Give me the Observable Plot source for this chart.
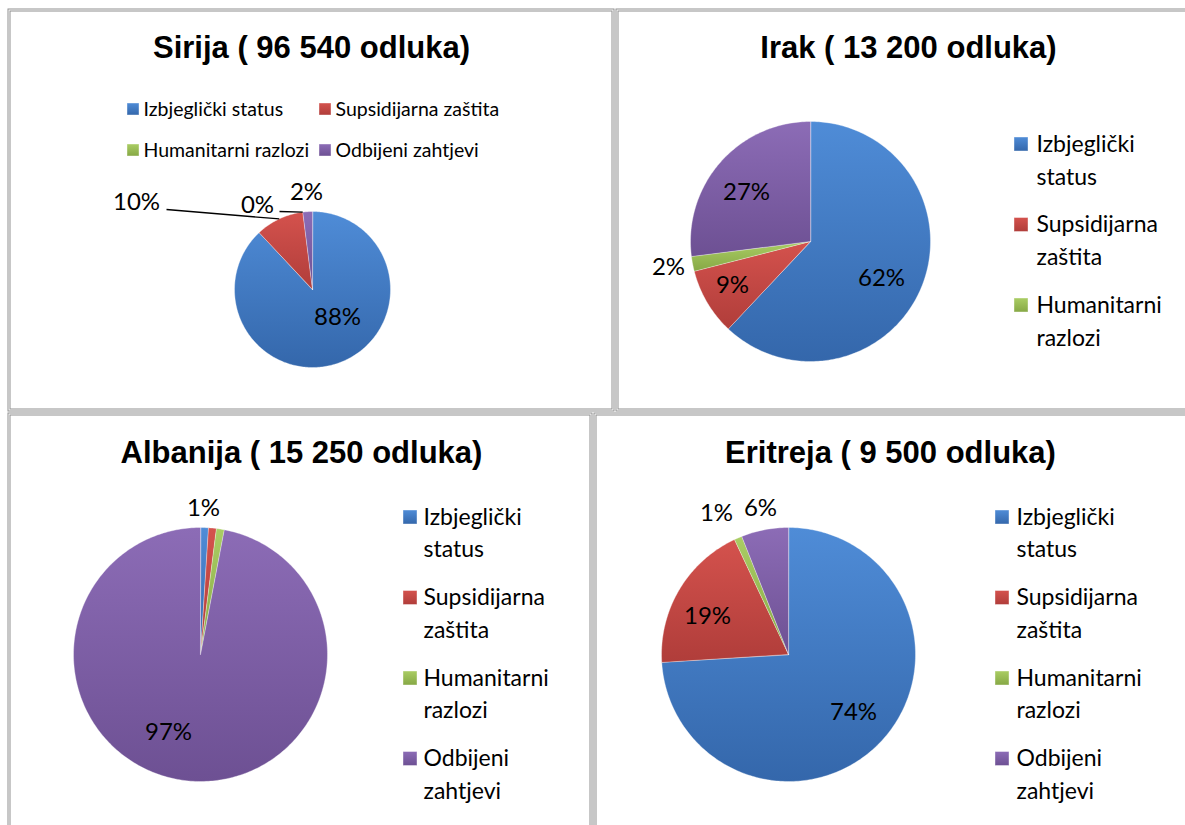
<!DOCTYPE html>
<html>
<head>
<meta charset="utf-8">
<script src="https://cdn.jsdelivr.net/npm/d3@7"></script>
<script src="https://cdn.jsdelivr.net/npm/@observablehq/plot@0.6"></script>
<style>
  body { margin: 0; background: #fff; }
  #chart { width: 1185px; height: 825px; overflow: hidden; }
</style>
</head>
<body>
<svg width="0" height="0" style="position:absolute">
  <defs>
    <linearGradient id="g0" x1="0" y1="0" x2="0" y2="1">
      <stop offset="0" stop-color="#4f8cd7"/><stop offset="1" stop-color="#3467ab"/>
    </linearGradient>
    <linearGradient id="g1" x1="0" y1="0" x2="0" y2="1">
      <stop offset="0" stop-color="#d4524d"/><stop offset="1" stop-color="#b03d3a"/>
    </linearGradient>
    <linearGradient id="g2" x1="0" y1="0" x2="0" y2="1">
      <stop offset="0" stop-color="#aacd64"/><stop offset="1" stop-color="#86a845"/>
    </linearGradient>
    <linearGradient id="g3" x1="0" y1="0" x2="0" y2="1">
      <stop offset="0" stop-color="#8c6cb6"/><stop offset="1" stop-color="#6d5093"/>
    </linearGradient>
  </defs>
</svg>
<div id="chart"></div>
<script>
// ---------- data ----------
const categories = ["Izbjeglički status", "Supsidijarna zaštita", "Humanitarni razlozi", "Odbijeni zahtjevi"];
const countries = ["Sirija", "Irak", "Albanija", "Eritreja"];
const decisions = ["96 540", "13 200", "15 250", "9 500"];
const sirijaValues = [88, 10, 0, 2];
const irakValues = [62, 9, 2, 27];
const albanijaValues = [1, 1, 1, 97];
const eritrejaValues = [74, 19, 1, 6];
const pieValues = [sirijaValues, irakValues, albanijaValues, eritrejaValues];

// ---------- layout (positions / styles only) ----------
const W = 1185, H = 825;
const fills = ["url(#g0)", "url(#g1)", "url(#g2)", "url(#g3)"];
const layout = [
  { box: [9, 10, 613, 410], title: [311, 48], center: [312, 289], r: 78,
    labels: [[25, 28], [-176, -87], [-55, -84], [-6, -97]],
    leaders: [null, [-146, -80], [-33, -78], null],
    legend: { kind: "grid", cols: [127, 319], rows: [109, 150], size: 12, textGap: 16, font: 19.5 } },
  { box: [617, 10, 1195, 410], title: [908, 48], center: [810, 241], r: 120,
    labels: [[71, 37], [-78, 44], [-142, 26], [-64, -49]],
    leaders: [null, null, null, null],
    legend: { kind: "list", x: 1014, y0: 144, step: 80.5, line: 33, count: 3, size: 14, textGap: 22, font: 23 } },
  { box: [9, 414, 591, 835], title: [301, 453], center: [200, 654], r: 127,
    labels: [null, [3, -146], null, [-32, 78]],
    leaders: [null, null, null, null],
    legend: { kind: "list", x: 403, y0: 517, step: 80.5, line: 32.5, count: 4, size: 14, textGap: 20, font: 23 } },
  { box: [595, 414, 1195, 835], title: [890, 453], center: [788, 654], r: 127,
    labels: [[65, 58], [-81, -38], [-72, -141], [-28, -146]],
    leaders: [null, null, null, null],
    legend: { kind: "list", x: 995, y0: 517, step: 80.5, line: 32.5, count: 4, size: 14, textGap: 21, font: 23 } }
];

// ---------- derived tables ----------
const panelRows = layout.map((L, i) => ({ x1: L.box[0], y1: L.box[1], x2: L.box[2], y2: L.box[3] }));
const titleRows = layout.map((L, i) => ({ x: L.title[0], y: L.title[1], text: `${countries[i]} ( ${decisions[i]} odluka)` }));

const wedgePts = [];
const labelRows = [];
const leaderRows = [];
pieValues.forEach((values, p) => {
  const L = layout[p];
  const [cx, cy] = L.center, r = L.r;
  const arcs = d3.pie().sort(null).value(d => d)(values);
  arcs.forEach((a, k) => {
    const mid = (a.startAngle + a.endAngle) / 2;
    if (L.labels[k]) labelRows.push({ x: cx + L.labels[k][0], y: cy + L.labels[k][1], text: `${values[k]}%` });
    if (L.leaders[k]) leaderRows.push({ x1: cx + L.leaders[k][0], y1: cy + L.leaders[k][1], x2: cx + r * Math.sin(mid), y2: cy - r * Math.cos(mid) });
    if (values[k] <= 0) return;
    const key = `${p}-${k}`;
    wedgePts.push({ key, cat: k, x: cx, y: cy });
    const n = Math.max(2, Math.ceil((a.endAngle - a.startAngle) / (Math.PI / 180)));
    for (let i = 0; i <= n; i++) {
      const t = a.startAngle + (a.endAngle - a.startAngle) * i / n;
      wedgePts.push({ key, cat: k, x: cx + r * Math.sin(t), y: cy - r * Math.cos(t) });
    }
  });
});

const legendSquares = [];
const legendTexts = [];
layout.forEach((L, p) => {
  const g = L.legend;
  if (g.kind === "grid") {
    categories.forEach((c, k) => {
      const x = g.cols[k % 2], y = g.rows[Math.floor(k / 2)];
      legendSquares.push({ x1: x, x2: x + g.size, y1: y - g.size / 2, y2: y + g.size / 2, cat: k });
      legendTexts.push({ x: x + g.textGap, y, text: c, font: g.font });
    });
  } else {
    categories.slice(0, g.count).forEach((c, k) => {
      const y = g.y0 + k * g.step;
      legendSquares.push({ x1: g.x, x2: g.x + g.size, y1: y - g.size / 2, y2: y + g.size / 2, cat: k });
      const sp = c.indexOf(" ");
      legendTexts.push({ x: g.x + g.textGap, y, text: c.slice(0, sp), font: g.font });
      legendTexts.push({ x: g.x + g.textGap, y: y + g.line, text: c.slice(sp + 1), font: g.font });
    });
  }
});

const sansCal = "Lato, Carlito, Calibri, sans-serif";
const marks = [
  Plot.rect(panelRows, { x1: "x1", x2: "x2", y1: "y1", y2: "y2", fill: "none", stroke: "#8f8f8f", strokeWidth: 3 }),
  Plot.rect(panelRows, { x1: "x1", x2: "x2", y1: "y1", y2: "y2", fill: "none", stroke: "#ffffff", strokeWidth: 1 })
];
categories.forEach((c, k) => {
  marks.push(Plot.line(wedgePts.filter(d => d.cat === k), {
    x: "x", y: "y", z: "key", curve: "linear-closed",
    fill: fills[k], stroke: "rgba(255,255,255,0.35)", strokeWidth: 1
  }));
  marks.push(Plot.rect(legendSquares.filter(d => d.cat === k), {
    x1: "x1", x2: "x2", y1: "y1", y2: "y2", fill: fills[k], stroke: "rgba(255,255,255,0.5)", strokeWidth: 0.8
  }));
});
marks.push(
  Plot.link(leaderRows, { x1: "x1", y1: "y1", x2: "x2", y2: "y2", stroke: "#000", strokeWidth: 1.3 }),
  Plot.text(labelRows, { x: "x", y: "y", text: "text", fontSize: 24, fontFamily: sansCal, fill: "#000", textAnchor: "middle", lineAnchor: "middle" }),
  Plot.text(titleRows, { x: "x", y: "y", text: "text", fontSize: 31, fontWeight: "bold", fontFamily: "'Liberation Sans', Arial, sans-serif", fill: "#000", textAnchor: "middle", lineAnchor: "middle" }),
  Plot.text(legendTexts.filter(d => d.font < 21), { x: "x", y: "y", text: "text", fontSize: 19.5, fontFamily: sansCal, fill: "#000", textAnchor: "start", lineAnchor: "middle" }),
  Plot.text(legendTexts.filter(d => d.font >= 21), { x: "x", y: "y", text: "text", fontSize: 23, fontFamily: sansCal, fill: "#000", textAnchor: "start", lineAnchor: "middle" })
);

const chart = Plot.plot({
  width: W, height: H,
  margin: 0,
  x: { domain: [0, W], range: [0, W], axis: null },
  y: { domain: [0, H], range: [0, H], axis: null },
  style: { background: "#fff", overflow: "hidden" },
  marks
});
document.getElementById("chart").append(chart);
</script>
</body>
</html>
